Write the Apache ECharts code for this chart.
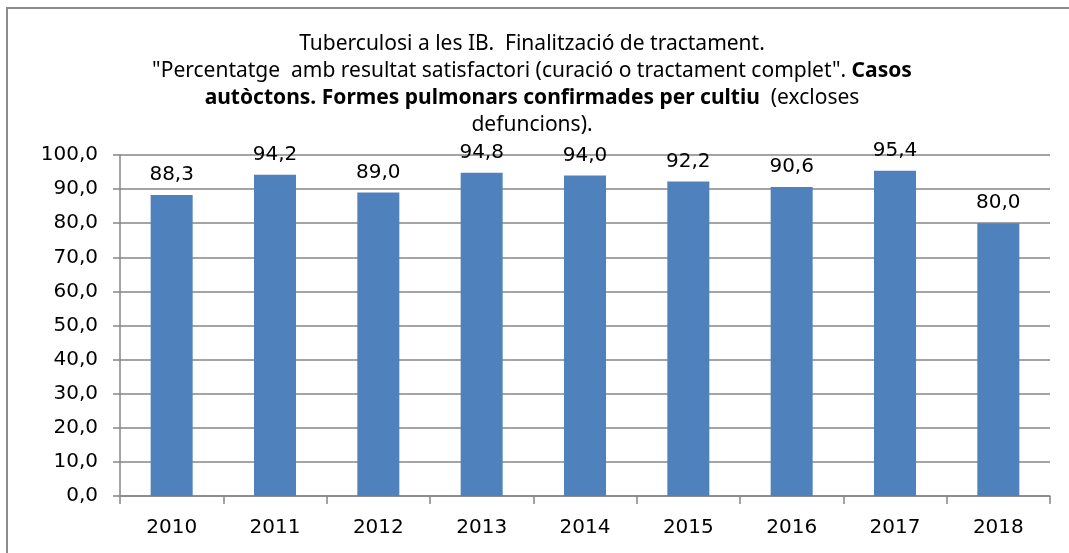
<!DOCTYPE html>
<html>
<head>
<meta charset="utf-8">
<script src="https://cdn.jsdelivr.net/npm/echarts@6/dist/echarts.min.js"></script>
<style>html,body{margin:0;padding:0;background:#fff}#c{width:1069px;height:553px}</style>
</head>
<body>
<div id="c"></div>
<script>
const categories = ['2010','2011','2012','2013','2014','2015','2016','2017','2018'];
const values = [88.3, 94.2, 89.0, 94.8, 94.0, 92.2, 90.6, 95.4, 80.0];
const yMin = 0, yMax = 100, yStep = 10;

const chart = echarts.init(document.getElementById('c'));
const fmt = v => v.toFixed(1).replace('.', ',');
const axisFont = 'DejaVu Sans, Verdana, sans-serif';
const titleFont = 'Noto Sans, sans-serif';
chart.setOption({
  animation: false,
  backgroundColor: '#fff',
  graphic: [{
    type: 'rect', shape: {x: 7, y: 8, width: 1100, height: 600},
    style: {fill: 'none', stroke: '#8c8c8c', lineWidth: 2}, z: -1
  }],
  title: {
    left: 527, top: 26, textAlign: 'center',
    text: 'Tuberculosi a les IB.  Finalització de tractament.\n"Percentatge  amb resultat satisfactori (curació o tractament complet". {b|Casos}\n{b|autòctons. Formes pulmonars confirmades per cultiu}  (excloses\ndefuncions).',
    textStyle: {
      fontFamily: titleFont, fontSize: 21, fontWeight: 'normal', color: '#000',
      lineHeight: 27, align: 'center',
      rich: {b: {fontFamily: titleFont, fontSize: 21, fontWeight: 'bold', color: '#000', lineHeight: 27}}
    }
  },
  grid: {left: 120, right: 19, top: 155, bottom: 57},
  xAxis: {
    type: 'category', data: categories,
    axisLine: {lineStyle: {color: '#868686', width: 1.5}},
    axisTick: {show: true, length: 8, lineStyle: {color: '#868686', width: 1.5}},
    axisLabel: {fontFamily: axisFont, fontSize: 20, color: '#000', margin: 22}
  },
  yAxis: {
    type: 'value', min: yMin, max: yMax, interval: yStep,
    axisLine: {show: true, lineStyle: {color: '#868686', width: 1.5}},
    axisTick: {show: true, length: 7, lineStyle: {color: '#868686', width: 1.5}},
    splitLine: {lineStyle: {color: '#868686', width: 1.5}},
    axisLabel: {fontFamily: axisFont, fontSize: 20, color: '#000', margin: 22, formatter: v => fmt(v)}
  },
  series: [{
    type: 'bar', data: values, barWidth: 42,
    itemStyle: {color: '#4F81BD'},
    label: {show: true, position: 'top', distance: 10, fontFamily: axisFont, fontSize: 20, color: '#000',
      formatter: p => fmt(p.value)}
  }]
});
</script>
</body>
</html>
